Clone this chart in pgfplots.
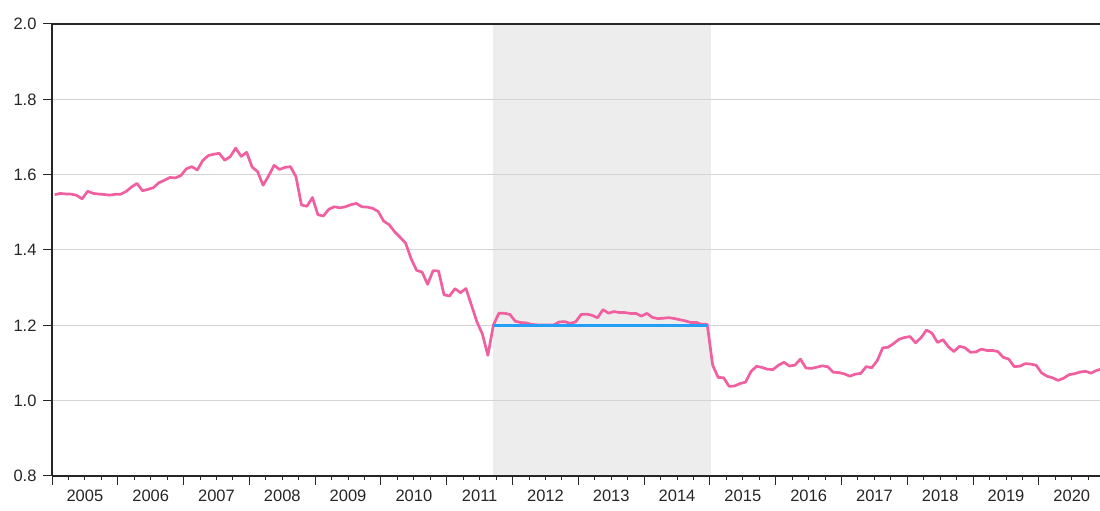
\documentclass[border=0pt]{standalone}
\usepackage{pgfplots}
\pgfplotsset{compat=1.18}
\usepackage{pgfplotstable}
\usepackage{fontspec}
\setmainfont{Liberation Sans}
\definecolor{pinkline}{RGB}{240,96,160}
\definecolor{blueline}{RGB}{35,160,245}
\definecolor{shadec}{RGB}{237,237,237}
\definecolor{gridc}{RGB}{212,212,212}

\pgfplotstableread{
v
1.5469
1.5501
1.5488
1.5483
1.5451
1.5357
1.5560
1.5504
1.5485
1.5474
1.5457
1.5478
1.5480
1.5550
1.5673
1.5767
1.5572
1.5609
1.5656
1.5785
1.5851
1.5925
1.5914
1.5976
1.6155
1.6212
1.6124
1.6375
1.6506
1.6543
1.6567
1.6383
1.6475
1.6706
1.6485
1.6592
1.6203
1.6080
1.5720
1.5964
1.6247
1.6139
1.6193
1.6212
1.5942
1.5194
1.5162
1.5393
1.4935
1.4904
1.5083
1.5147
1.5118
1.5148
1.5202
1.5236
1.5148
1.5138
1.5105
1.5021
1.4765
1.4671
1.4482
1.4337
1.4181
1.3767
1.3460
1.3413
1.3089
1.3452
1.3442
1.2811
1.2779
1.2974
1.2867
1.2977
1.2537
1.2092
1.1766
1.1203
1.2005
1.2320
1.2320
1.2290
1.2108
1.2075
1.2063
1.2023
1.2012
1.2010
1.2010
1.2011
1.2089
1.2098
1.2052
1.2091
1.2288
1.2298
1.2266
1.2199
1.2418
1.2322
1.2366
1.2338
1.2338
1.2316
1.2316
1.2245
1.2317
1.2212
1.2177
1.2189
1.2204
1.2181
1.2150
1.2118
1.2076
1.2078
1.2027
1.2026
1.0940
1.0618
1.0608
1.0379
1.0391
1.0455
1.0492
1.0777
1.0913
1.0882
1.0833
1.0827
1.0941
1.1018
1.0920
1.0943
1.1103
1.0867
1.0856
1.0889
1.0925
1.0899
1.0754
1.0747
1.0711
1.0650
1.0704
1.0724
1.0904
1.0874
1.1059
1.1398
1.1420
1.1516
1.1632
1.1677
1.1702
1.1537
1.1671
1.1875
1.1792
1.1546
1.1619
1.1428
1.1303
1.1443
1.1406
1.1286
1.1293
1.1368
1.1332
1.1334
1.1305
1.1150
1.1102
1.0903
1.0915
1.0982
1.0972
1.0939
1.0736
1.0648
1.0606
1.0539
1.0595
1.0690
1.0716
1.0760
1.0780
1.0731
1.0803
1.0842
}\eurchf

\begin{document}
\begin{tikzpicture}[x=1pt,y=1pt]
\begin{axis}[
  set layers=standard,
  at={(52pt,35pt)}, anchor=south west,
  scale only axis, width=1052.7pt, height=452pt,
  xmin=0, xmax=192, ymin=0.8, ymax=2.0,
  axis x line=box, axis y line=left,
  axis line style={-, line width=1.2pt, black!85},
  xtick pos=bottom, ytick pos=left,
  tick align=outside,
  xtick={0,12,...,192}, xticklabels={},
  minor xtick={3,6,...,189},
  major tick length=9pt, minor tick length=4.5pt,
  every tick/.style={black!85, line width=1pt},
  extra x ticks={6,18,...,186},
  extra x tick labels={2005,2006,2007,2008,2009,2010,2011,2012,2013,2014,2015,2016,2017,2018,2019,2020},
  extra x tick style={major tick length=0pt, grid=none, xticklabel style={yshift=-10pt}},
  ytick={0.8,1.0,1.2,1.4,1.6,1.8,2.0},
  yticklabel style={xshift=-3pt, /pgf/number format/.cd, fixed, fixed zerofill, precision=1},
  /pgf/number format/assume math mode=true,
  tick label style={font=\fontsize{16.5}{19}\selectfont, text=black!85},
  ymajorgrids, xmajorgrids=false,
  grid style={gridc, line width=1pt},
  clip=true,
]
\addplot[on layer=axis background, fill=shadec, draw=none] coordinates {(80.5,0.8) (80.5,2.0) (120.2,2.0) (120.2,0.8)} -- cycle;
\addplot[pinkline, line width=2.7pt, line join=round, mark=none] table[x expr=\coordindex+0.5, y=v] {\eurchf};
\addplot[blueline, line width=3pt, mark=none] coordinates {(80.5,1.2) (119.5,1.2)};
\end{axis}
\pgfresetboundingbox
\path (0,0) rectangle (1100,511);
\end{tikzpicture}
\end{document}
